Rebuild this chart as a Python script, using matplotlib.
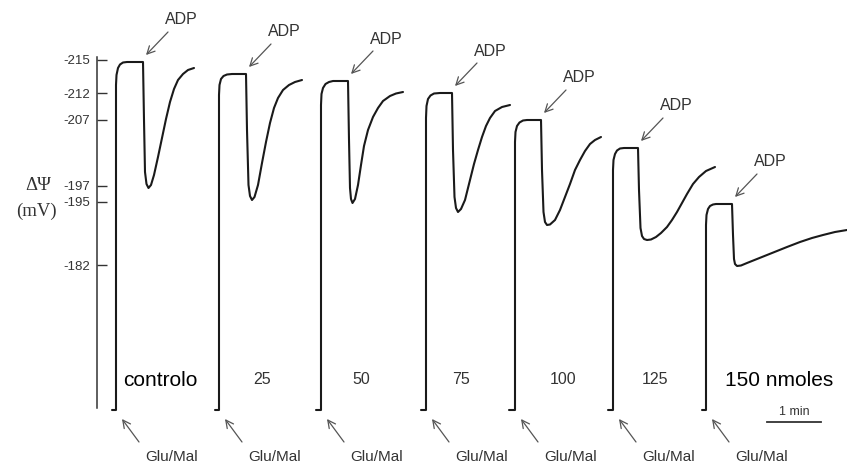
import matplotlib
matplotlib.use("Agg")
import matplotlib.pyplot as plt

plt.rcParams['font.family'] = ['Liberation Sans', 'DejaVu Sans']

# eixo de ΔΨ (posições no traçado e rótulos em mV)
tick_pos = [60, 93, 120, 186, 202, 265]
tick_lab = ['-215', '-212', '-207', '-197', '-195', '-182']

# traçados (tempo, sinal); índice 1 = adição Glu/Mal, índice 8 = adição ADP
t_controlo = [112, 116, 116, 116.5, 118, 120, 123, 127, 143, 144, 145, 146.5, 148.5, 151, 154, 158, 162, 166, 170, 174, 178, 183, 188, 194]
v_controlo = [410, 410, 85, 75, 68, 64.5, 62.5, 62, 62, 120, 172, 184, 188, 185, 175, 157, 138, 119, 102, 89, 80, 74, 70, 68]

t_25 = [215, 219, 219, 219.5, 221, 223.5, 227, 232, 246, 247, 248.5, 250, 252, 254.5, 258, 262, 266, 270, 274, 278, 283, 289, 295, 302]
v_25 = [410, 410, 95, 85, 79, 76, 74.5, 74, 74, 130, 185, 196, 200, 197, 185, 163, 142, 123, 108, 98, 90, 85, 82, 80]

t_50 = [316, 321, 321, 321.5, 323, 325.5, 329, 333, 348, 349, 350, 351, 352.5, 355, 358, 361, 364, 368, 373, 378, 383, 390, 396, 403]
v_50 = [410, 410, 105, 94, 88, 84, 82, 81, 81, 140, 188, 199, 203, 199, 185, 165, 146, 130, 117, 108, 101, 96, 93.5, 92]

t_75 = [421, 426, 426, 426.5, 428, 430.5, 434, 440, 452, 453, 454.5, 456, 458, 461, 465, 470, 474, 478, 482, 486, 490, 495, 502, 510]
v_75 = [410, 410, 118, 106, 99, 95.5, 93.5, 93, 93, 150, 197, 208, 212, 209, 200, 180, 164, 150, 137, 126, 118, 111, 107, 105]

t_100 = [509, 515, 515, 515.5, 517, 519.5, 523, 527, 541, 542, 543.5, 545, 547, 550, 555, 560, 565, 570, 575, 580, 585, 590, 595, 601]
v_100 = [410, 410, 142, 132, 126, 122.5, 120.5, 120, 120, 170, 212, 222, 225, 224.5, 220, 210, 197, 184, 170, 160, 151, 144, 140, 137]

t_125 = [608, 613, 613, 613.5, 615, 617, 620, 624, 638, 639, 640.5, 642, 644, 647, 651, 656, 661, 667, 672, 677, 682, 687, 693, 699, 706, 715]
v_125 = [410, 410, 170, 160, 154, 150.5, 148.5, 148, 148, 190, 228, 236, 239, 240, 239.5, 237, 233, 227, 220, 212, 203, 194, 184, 177, 171, 167]

t_150 = [702, 706, 706, 706.5, 708, 710, 713, 716, 732, 733, 734, 735, 737, 741, 747, 757, 767, 777, 787, 800, 812, 823, 835, 847]
v_150 = [410, 410, 225, 215, 209, 206, 204.5, 204, 204, 235, 259, 264, 266, 265.5, 263, 259, 255, 251, 247, 242, 238, 235, 232, 230]

tracos = [(t_controlo, v_controlo), (t_25, v_25), (t_50, v_50), (t_75, v_75),
          (t_100, v_100), (t_125, v_125), (t_150, v_150)]

doses = ['controlo', '25', '50', '75', '100', '125', '150 nmoles']
dose_x = [160, 262, 361, 461, 563, 655, 779]

fig = plt.figure(figsize=(8.47, 4.66), dpi=100)
ax = fig.add_axes([0, 0, 1, 1])
ax.set_xlim(0, 847)
ax.set_ylim(466, 0)

for s in ['top', 'right', 'bottom']:
    ax.spines[s].set_visible(False)
ax.spines['left'].set_position(('data', 97))
ax.spines['left'].set_bounds(57, 408)
ax.spines['left'].set_linewidth(1.1)
ax.spines['left'].set_color('#333333')
ax.set_xticks([])
ax.set_yticks(tick_pos)
ax.set_yticklabels(tick_lab)
ax.tick_params(axis='y', direction='in', length=7.5, width=1.0, color='#333333',
               labelsize=9.5, labelcolor='#333333', pad=5)

ax.text(38, 186, 'ΔΨ', ha='center', va='center', fontsize=13.5,
        family=['Liberation Serif', 'DejaVu Serif'], color='#333333')
ax.text(36, 211, '(mV)', ha='center', va='center', fontsize=13.5,
        family=['Liberation Serif', 'DejaVu Serif'], color='#333333')

seta = dict(arrowstyle='->,head_length=0.55,head_width=0.28', color='#555555',
            lw=0.9, shrinkA=0, shrinkB=0)

for (t, v), nome, xl in zip(tracos, doses, dose_x):
    ax.plot(t, v, color='#1a1a1a', lw=1.5, solid_joinstyle='round',
            solid_capstyle='round', clip_on=False)

    # ADP
    px, py = t[8] + 3, v[8] - 7
    ax.annotate('', xy=(px, py), xytext=(px + 22, py - 23), arrowprops=seta)
    ax.text(px + 35, py - 35, 'ADP', ha='center', va='center', fontsize=11.5,
            color='#333333')

    # Glu/Mal
    gx, gy = t[1] + 6, 419
    ax.annotate('', xy=(gx, gy), xytext=(gx + 17, gy + 23), arrowprops=seta)
    ax.text(gx + 50, gy + 38, 'Glu/Mal', ha='center', va='center', fontsize=11,
            color='#333333')

    grande = nome in ('controlo', '150 nmoles')
    ax.text(xl, 380, nome, ha='center', va='center',
            fontsize=15 if grande else 11.5,
            color='black' if grande else '#333333')

# barra de escala
ax.plot([767, 821], [422, 422], color='#333333', lw=1.3)
ax.text(794, 412, '1 min', ha='center', va='center', fontsize=9, color='#333333')

fig.savefig('out.png', dpi=100)
